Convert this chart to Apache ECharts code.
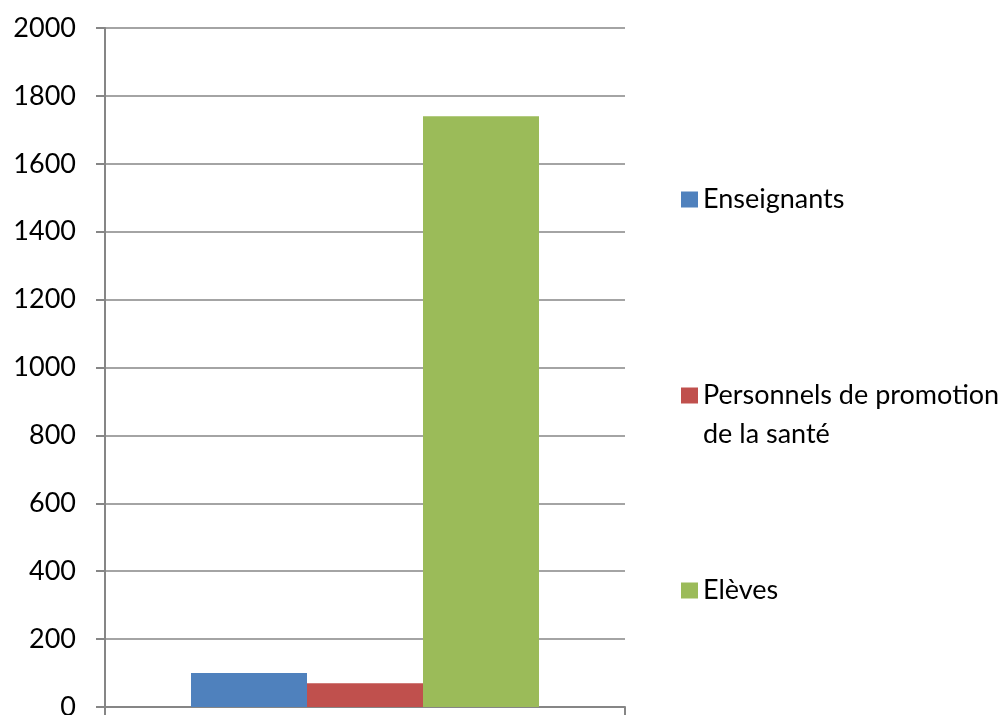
<!DOCTYPE html>
<html lang="fr">
<head>
  <meta charset="UTF-8">
  <title>Effectifs</title>
  <style>
    html, body { margin: 0; padding: 0; background: #fff; }
    #chart { width: 1008px; height: 715px; }
  </style>
  <script src="https://cdn.jsdelivr.net/npm/echarts@6/dist/echarts.min.js"></script>
</head>
<body>
  <div id="chart"></div>
  <script>
    // données
    const categories = [''];
    const seriesNames = ['Enseignants', 'Personnels de promotion\nde la santé', 'Elèves'];
    const seriesValues = [[100], [70], [1740]];
    const colors = ['#4F81BD', '#C0504D', '#9BBB59'];
    const yTicks = [0, 200, 400, 600, 800, 1000, 1200, 1400, 1600, 1800, 2000];

    const font = 'Lato, "Open Sans", sans-serif';
    const axisGray = '#868686';

    const chart = echarts.init(document.getElementById('chart'));

    const series = seriesNames.map((name, i) => ({
      name: name,
      type: 'bar',
      data: seriesValues[i],
      barWidth: 116,
      barGap: '0%',
      itemStyle: { color: colors[i] },
      animation: false
    }));

    // une légende par entrée pour placer chaque élément comme dans l'original
    // (ligne vide en tête pour que l'icône soit alignée sur la première ligne)
    const legendTops = [180, 337, 571];
    const legends = seriesNames.map((name, i) => ({
      data: [name],
      left: 681,
      top: legendTops[i],
      padding: 0,
      icon: 'rect',
      itemWidth: 17,
      itemHeight: 16,
      formatter: n => (n.indexOf('\n') >= 0 ? '\n' + n : n),
      textStyle: {
        fontFamily: font,
        fontSize: 27,
        color: '#000',
        lineHeight: 39
      }
    }));

    chart.setOption({
      backgroundColor: '#fff',
      grid: { left: 105, right: 383, top: 28, bottom: 8, outerBoundsMode: 'none' },
      legend: legends,
      xAxis: {
        type: 'category',
        data: categories,
        axisLine: { lineStyle: { color: axisGray, width: 2 } },
        axisTick: { show: true, length: 8, lineStyle: { color: axisGray, width: 2 } },
        axisLabel: { show: false }
      },
      yAxis: {
        type: 'value',
        min: yTicks[0],
        max: yTicks[yTicks.length - 1],
        interval: 200,
        axisLine: { show: true, lineStyle: { color: axisGray, width: 2 } },
        axisTick: { show: true, length: 9, lineStyle: { color: axisGray, width: 2 } },
        splitLine: { lineStyle: { color: axisGray, width: 1.5 } },
        axisLabel: {
          fontFamily: font,
          fontSize: 27,
          color: '#000',
          margin: 29,
          formatter: v => String(v)
        }
      },
      series: series
    });
  </script>
</body>
</html>
